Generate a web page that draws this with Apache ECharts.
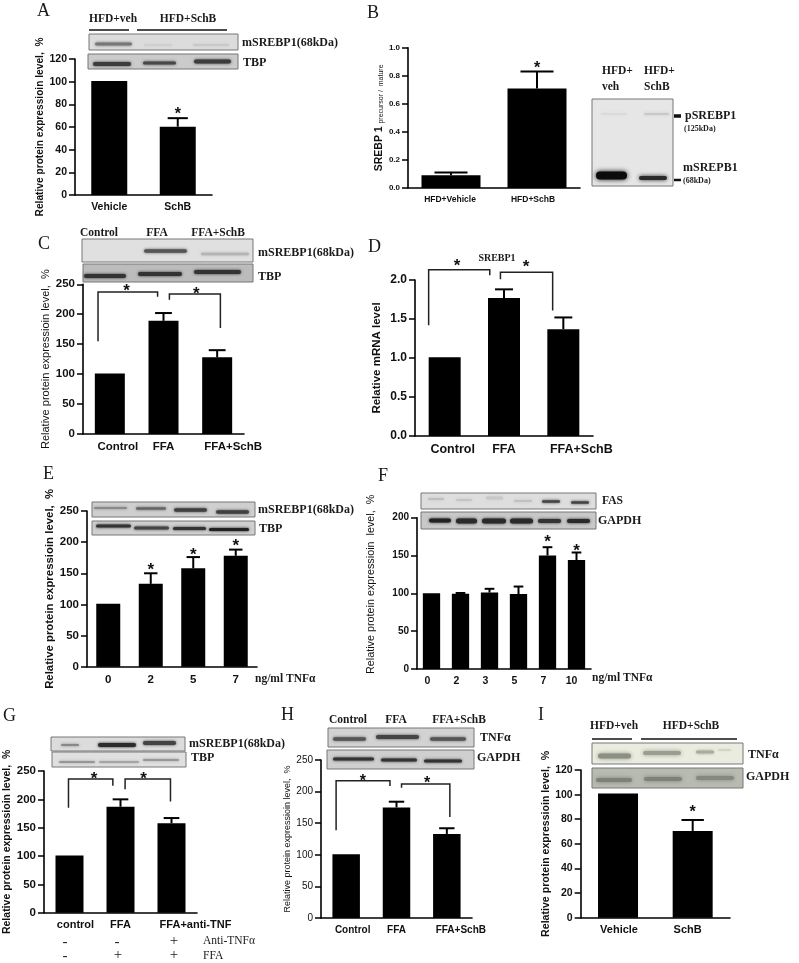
<!DOCTYPE html>
<html><head><meta charset="utf-8">
<style>html,body{margin:0;padding:0;background:#fff}#c{width:799px;height:963px}</style>
<script src="https://cdn.jsdelivr.net/npm/echarts@6/dist/echarts.min.js"></script>
</head><body><div id="c"></div>
<script>
// ---------- data ----------
const catsA=['Vehicle','SchB'], valsA=[100.6,60.3], errA=[null,67.8], starsA=[[1,74]];
const catsB=['HFD+Vehicle','HFD+SchB'], valsB=[0.09,0.71], errB=[0.11,0.83], starsB=[[1,0.87]];
const catsC=['Control','FFA','FFA+SchB'], valsC=[101,189,128], errC=[null,202,140];
const bracketsC=[[-0.22,155,237,0.89,229],[1.11,224,234,2.06,177]], starsC=[[0.31,244],[1.61,239]];
const catsD=['Control','FFA','FFA+SchB'], valsD=[1.01,1.77,1.37], errD=[null,1.88,1.52];
const bracketsD=[[-0.27,1.42,2.13,0.76,2.06],[0.94,2.01,2.10,1.82,1.61]], starsD=[[0.21,2.22],[1.37,2.2]];
const catsE=['0','2','5','7'], valsE=[101,133,158,178], errE=[null,150,176,188], starsE=[[1,160],[2,184],[3,198]];
const catsF=['0','2','3','5','7','10'], valsF=[100,99.5,101,99,150,144], errF=[null,100.5,106,109,161,154], starsF=[[4,172],[5,159]];
const catsG=['control','FFA','FFA+anti-TNF'], valsG=[101,187,158], errG=[null,200,167];
const bracketsG=[[-0.02,185,236,0.85,224],[1.09,218,236,1.98,196]], starsG=[[0.48,241],[1.45,241]];
const catsH=['Control','FFA','FFA+SchB'], valsH=[101,175,133], errH=[null,184,142];
const bracketsH=[[-0.2,139,217,0.87,209],[1.10,206,212,2.06,160]], starsH=[[0.33,221],[1.61,218]];
const catsI=['Vehicle','SchB'], valsI=[101,70.5], errI=[null,79.4], starsI=[[1,88]];
const ticksProtein='Relative protein expressioin level,  %';

// ---------- layout ----------
const SANS='"Liberation Sans",Arial,sans-serif', SERIF='"Liberation Serif","Times New Roman",serif';
const panels=[
 {cats:catsA,vals:valsA,err:errA,stars:starsA,box:[75,59,137,136],max:120,iv:20,bw:36,tf:10.5,lf:10.5,lw:'bold',off:[0,0],name:ticksProtein,nf:10.2,nw:'bold',gap:27,sf:16},
 {cats:catsB,vals:valsB,err:errB,stars:starsB,box:[408,47.7,172,140.3],max:1,iv:0.2,bw:59,tf:8,lf:8.5,lw:'bold',off:[-1,-4],dec:1,name:'{a|SREBP 1} {b|precursor /  mature}',nf:10,nw:'bold',gap:21,sf:16},
 {cats:catsC,vals:valsC,err:errC,stars:starsC,brackets:bracketsC,box:[83,284.3,161,149.7],max:250,iv:50,bw:30,tf:11.5,lf:11.5,lw:'bold',off:[8,0,16],name:ticksProtein,nf:11,nw:'normal',gap:31,sf:17},
 {cats:catsD,vals:valsD,err:errD,stars:starsD,brackets:bracketsD,box:[415,280,178,156],max:2,iv:0.5,bw:32,tf:12,lf:12.5,lw:'bold',off:[8,0,18],dec:1,name:'Relative mRNA level',nf:11.5,nw:'bold',gap:32,sf:17},
 {cats:catsE,vals:valsE,err:errE,stars:starsE,box:[87,511,170,155.7],max:250,iv:50,bw:24,tf:11.5,lf:11.5,lw:'bold',off:[0,0,0,0],name:ticksProtein,nf:11.4,nw:'bold',gap:32,sf:17},
 {cats:catsF,vals:valsF,err:errF,stars:starsF,box:[417,517.7,174,151.3],max:200,iv:50,bw:17.3,tf:10,lf:10.5,lw:'bold',off:[-4,-4,-4,-4,-4,-5],name:'Relative protein expressioin  level,  %',nf:10.8,nw:'normal',gap:40,sf:17,nshift:18},
 {cats:catsG,vals:valsG,err:errG,stars:starsG,brackets:bracketsG,box:[44,771,153,141.7],max:250,iv:50,bw:28,tf:11.5,lf:11,lw:'bold',off:[6,0,24],name:ticksProtein,nf:10.5,nw:'bold',gap:30,sf:17},
 {cats:catsH,vals:valsH,err:errH,stars:starsH,brackets:bracketsH,box:[321,760,151,158],max:250,iv:50,bw:27.5,tf:10,lf:10,lw:'bold',tw:'normal',off:[6.5,0,14],name:ticksProtein,nf:9,nw:'normal',gap:29,sf:16},
 {cats:catsI,vals:valsI,err:errI,stars:starsI,box:[580.7,770,149.3,147.7],max:120,iv:20,bw:40,tf:10.5,lf:11,lw:'bold',off:[1,-5],name:ticksProtein,nf:10.6,nw:'bold',gap:28,sf:16}
];

// ---------- annotations (blots & labels) ----------
const gfx=[];
function T(text,x,y,size,bold,align,fam){
  gfx.push({type:'text',z:30,style:{text,x,y,fill:'#1a1a1a',font:(bold?'bold ':'')+size+'px '+(fam||SERIF),textAlign:align||'left',textVerticalAlign:'middle'}});
}
function L(x0,y0,x1,y1,w){
  gfx.push({type:'line',z:30,shape:{x1:x0,y1:y0,x2:x1,y2:y1},style:{stroke:'#111',lineWidth:w||1.5}});
}
function blot(x0,y0,x1,y1,bg,bands){
  gfx.push({type:'rect',z:20,shape:{x:x0,y:y0,width:x1-x0,height:y1-y0},style:{fill:bg,stroke:'#777',lineWidth:1}});
  bands.forEach(b=>{
    gfx.push({type:'rect',z:21,shape:{x:b[0]+1,y:b[2]-b[3]/2,width:b[1]-b[0]-2,height:b[3],r:b[3]/2},style:{fill:b[4],shadowBlur:b[5]||3,shadowColor:b[4]}});
  });
}
const d='#3a3a3a', m='#777', f='#c4c4c4';
// panel letters
[['A',37,11],['B',367,13],['C',38,244],['D',368,247],['E',43,474],['F',378,476],['G',3,716],['H',281,715],['I',538,715]].forEach(a=>T(a[0],a[1],a[2],18,false));
const SR='mSREBP1(68kDa)';
// A
T('HFD+veh',113,19,11.5,true,'center');T('HFD+SchB',188,19,11.5,true,'center');L(89,30,129,30);L(137,30,227,30);
blot(89,34,238,50,'#dcdcdc',[[94,133,44,3,'#777'],[143,173,45,2,'#cfcfcf'],[192,230,45,2,'#c8c8c8']]);
blot(88,54,238,69,'#cbcbcb',[[92,132,64,4,'#3c3c3c'],[142,177,63,3,'#484848'],[193,232,61.5,4,'#3c3c3c']]);
T(SR,242,43,12,true);T('TBP',243,63,12,true);
// B
blot(592,99,673,186,'#e6e6e6',[[595,628,175.5,8,'#0c0c0c',5],[638,668,178,4,'#2a2a2a',4],[643,670,114,2,'#c8c8c8'],[600,628,114,1.5,'#d8d8d8']]);
T('HFD+',602,71,11.5,true);T('veh',602,87,11.5,true);T('HFD+',644,71,11.5,true);T('SchB',644,87,11.5,true);
L(674,116,681,116,3.5);L(674,180,681,180,2.5);
T('pSREBP1',685,116,12,true);T('(125kDa)',684,128.5,8,true);T('mSREPB1',683,168,12,true);T('(68kDa)',683,181,8,true);
// C
T('Control',99,233,11.5,true,'center');T('FFA',157,233,11.5,true,'center');T('FFA+SchB',218,233,11.5,true,'center');
blot(82,239,253,262,'#e0e0e0',[[143,188,251,3.5,'#555'],[200,250,254,2.5,'#b4b4b4']]);
blot(83,264,253,282,'#bcbcbc',[[83,127,276,4,'#333'],[137,183,274,4,'#333'],[193,242,272,4,'#333']]);
T(SR,258,253,12,true);T('TBP',258,277,12,true);
// D
T('SREBP1',497,258,10,true,'center');
// E
blot(92,502,255,517,'#cfcfcf',[[93,128,508,2,'#8a8a8a'],[135,167,508.5,2.5,'#666'],[173,208,510,3.5,'#404040'],[215,250,512,3.5,'#404040']]);
blot(92,521,255,535,'#d0d0d0',[[95,132,526,3,'#333'],[133,170,528,3,'#444'],[172,207,528.5,3,'#333'],[208,250,529.5,3,'#222']]);
T(SR,258,510,12,true);T('TBP',259,529,12,true);
T('ng/ml TNFα',255,679,11.5,true);
// F
blot(421,493,596,509,'#dedede',[[427,445,499,1.5,'#b8b8b8'],[455,473,500,1.5,'#c0c0c0'],[485,504,498,3,'#c8c8c8'],[513,533,501,1.5,'#bcbcbc'],[541,561,501.5,2.5,'#444'],[570,590,502.5,2.5,'#444']]);
blot(421,512,596,529,'#c8c8c8',[[428,452,520.5,4,'#222'],[455,478,521,5,'#2a2a2a'],[481,507,521,5,'#2a2a2a'],[509,534,521,5,'#2a2a2a'],[537,562,521,4,'#333'],[566,591,521,4,'#2a2a2a']]);
T('FAS',602,501,11.5,true);T('GAPDH',598,521,12,true);
T('ng/ml TNFα',592,678,11.5,true);
// G
blot(51,737,185,751,'#dcdcdc',[[60,80,745,2,'#888'],[97,137,745,4,'#2c2c2c'],[142,177,743,4,'#444']]);
blot(52,752,186,767,'#e0e0e0',[[58,96,762,1.5,'#8a8a8a'],[98,140,762,1.5,'#9a9a9a'],[142,180,760,1.5,'#8a8a8a']]);
T(SR,189,744,12,true);T('TBP',191,758,12,true);
[['-',65,942],['-',117,942],['+',174,941],['-',65,956],['+',118,955],['+',174,955]].forEach(a=>T(a[0],a[1],a[2],15,false,'center'));
T('Anti-TNFα',203,941,11.5,false);T('FFA',203,955.5,11.5,false);
// H
T('Control',348,720,11.5,true,'center');T('FFA',396,720,11.5,true,'center');T('FFA+SchB',459,720,11.5,true,'center');
blot(328,728,474,747,'#d2d2d2',[[332,367,739,3.5,'#555'],[375,420,737,4,'#444'],[429,467,739,3.5,'#555']]);
blot(327,750,474,769,'#cfcfcf',[[332,375,759,3,'#333'],[380,418,760,3,'#333'],[423,463,761,3,'#333']]);
T('TNFα',480,738,12,true);T('GAPDH',477,758,12,true);
// I
T('HFD+veh',614,726,11.5,true,'center');T('HFD+SchB',691,726,11.5,true,'center');L(592,739,632,739);L(641,739,737,739);
blot(592,743,743,764,'#e9ecdf',[[597,632,756,5,'#8c8f84',4],[642,682,753,4,'#9a9d92',4],[695,715,752,3,'#a8aba0',3],[717,732,750,1.5,'#cfd2c6',2]]);
blot(592,768,743,788,'#b8bbb0',[[595,633,780,4,'#7e8178',4],[643,683,779,4,'#7e8178',4],[695,735,778,4,'#85887e',4]]);
T('TNFα',748,755,12,true);T('GAPDH',746,777,12,true);

// ---------- option ----------
const grid=[],xAxis=[],yAxis=[],series=[];
panels.forEach((p,i)=>{
  const [l,t,w,h]=p.box;
  grid.push({left:l,top:t,width:w,height:h,containLabel:false});
  const rich={};
  p.off.forEach((o,k)=>{
    rich['s'+k]={fontFamily:SANS,fontWeight:p.lw,fontSize:p.lf,color:'#111',padding:o>0?[0,0,0,2*o]:[0,-2*o,0,0]};
  });
  xAxis.push({type:'category',gridIndex:i,data:p.cats,
    axisLine:{lineStyle:{color:'#000',width:1.6}},
    axisTick:{alignWithLabel:true,length:5,lineStyle:{color:'#000',width:1.5}},
    axisLabel:{interval:0,margin:7,hideOverlap:false,formatter:(v,k)=>'{s'+k+'|'+v+'}',rich}
  });
  yAxis.push({type:'value',gridIndex:i,min:0,max:p.max,interval:p.iv,
    splitLine:{show:false},
    axisLine:{show:true,lineStyle:{color:'#000',width:1.6}},
    axisTick:{show:true,length:6,lineStyle:{color:'#000',width:1.5}},
    axisLabel:{margin:8,fontFamily:SANS,fontWeight:p.tw||'bold',fontSize:p.tf,color:'#111',
      formatter:v=>p.dec?v.toFixed(p.dec):String(v)},
    name:p.name,nameLocation:'middle',nameGap:p.gap,
    nameTextStyle:{fontFamily:SANS,fontWeight:p.nw,fontSize:p.nf,color:'#111',
      padding:p.nshift?[0,0,0,p.nshift]:0,
      rich:{a:{fontFamily:SANS,fontWeight:'bold',fontSize:10.5,color:'#111'},
            b:{fontFamily:SANS,fontWeight:'normal',fontSize:7,color:'#111',padding:[0,0,-4,0]}}}
  });
  series.push({type:'bar',xAxisIndex:i,yAxisIndex:i,data:p.vals,barWidth:p.bw,silent:true,itemStyle:{color:'#000'},animation:false});
  // error bars
  const errRows=p.err.map((e,k)=>e==null?null:[k,p.vals[k],e]).filter(Boolean);
  series.push({type:'custom',xAxisIndex:i,yAxisIndex:i,silent:true,animation:false,data:errRows,encode:{x:0,y:2},z:3,
    renderItem:(ps,api)=>{
      const a=api.coord([api.value(0),api.value(1)]),b=api.coord([api.value(0),api.value(2)]),c=p.bw*0.28;
      const st={stroke:'#000',lineWidth:2,fill:null};
      return {type:'group',children:[
        {type:'line',shape:{x1:a[0],y1:a[1],x2:b[0],y2:b[1]},style:st},
        {type:'line',shape:{x1:b[0]-c,y1:b[1],x2:b[0]+c,y2:b[1]},style:st}]};
    }});
  // significance brackets (x in category units, y in value units)
  if(p.brackets){
    series.push({type:'custom',xAxisIndex:i,yAxisIndex:i,silent:true,animation:false,data:p.brackets,encode:{x:0,y:2},z:4,
      renderItem:(ps,api)=>{
        const bw=api.size([1,0])[0], x0=api.coord([0,0])[0];
        const X=u=>x0+u*bw, Y=v=>api.coord([0,v])[1];
        const x1=X(api.value(0)),x2=X(api.value(3));
        return {type:'polyline',shape:{points:[[x1,Y(api.value(1))],[x1,Y(api.value(2))],[x2,Y(api.value(2))],[x2,Y(api.value(4))]]},
          style:{stroke:'#222',lineWidth:1.5,fill:null}};
      }});
  }
  // significance stars
  series.push({type:'custom',xAxisIndex:i,yAxisIndex:i,silent:true,animation:false,data:p.stars,encode:{x:0,y:1},z:5,
    renderItem:(ps,api)=>{
      const bw=api.size([1,0])[0], x0=api.coord([0,0])[0];
      return {type:'text',style:{text:'*',x:x0+api.value(0)*bw,y:api.coord([0,api.value(1)])[1]+3,
        font:'bold '+p.sf+'px '+SANS,fill:'#111',textAlign:'center',textVerticalAlign:'middle'}};
    }});
});
const chart=echarts.init(document.getElementById('c'),null,{renderer:'canvas'});
chart.setOption({animation:false,backgroundColor:'#fff',grid,xAxis,yAxis,series,graphic:gfx});
</script></body></html>
